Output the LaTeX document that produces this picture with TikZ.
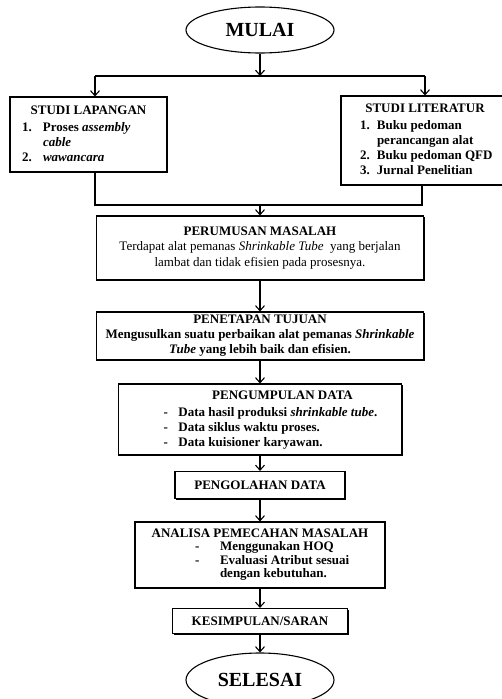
\documentclass[tikz,border=0pt]{standalone}
\usepackage{fontspec}
\setmainfont{Liberation Serif}
\usetikzlibrary{arrows.meta,positioning,shapes.geometric,shadows}

\begin{document}
\begin{tikzpicture}[x=1pt,y=-1pt,
  box/.style={draw,fill=white,line width=1.1pt,inner sep=0pt,align=center,
    font=\fontsize{13}{15}\selectfont\bfseries,
    drop shadow={shadow xshift=1.3pt,shadow yshift=-1.3pt,fill=black,opacity=1}},
  ends/.style={draw,ellipse,line width=1.1pt,inner sep=0pt,minimum width=148pt,
    font=\fontsize{20}{22}\selectfont\bfseries},
  link/.style={line width=1.1pt},
  flow/.style={link,-{Straight Barb[length=5pt,width=9pt]}}]
  \useasboundingbox (0,0) rectangle (501,699);
  \node[ends,minimum height=46pt] (mulai) at (260,30) {MULAI};
  \node[box,minimum width=157pt,minimum height=75pt] (lap) at (88.5,134.5) {%
    \begin{tabular}{@{\hspace{12pt}}p{21pt}@{}p{124pt}@{}}
      \multicolumn{2}{@{}c@{}}{STUDI LAPANGAN}\\[2pt]
      1. & Proses \textit{assembly}\\
         & \textit{cable}\\
      2. & \textit{wawancara}
    \end{tabular}};
  \node[box,minimum width=168pt,minimum height=89pt] (lit) at (425,140.5) {%
    \begin{tabular}{@{\hspace{19pt}}p{17pt}@{}p{132pt}@{}}
      \multicolumn{2}{@{}c@{}}{STUDI LITERATUR}\\[2pt]
      1. & Buku pedoman\\
         & perancangan alat\\
      2. & Buku pedoman QFD\\
      3. & Jurnal Penelitian
    \end{tabular}};
  \node[box,minimum width=327pt,minimum height=64pt,
    font=\fontsize{13}{15.5}\selectfont] (per) at (260,248) {%
    \textbf{PERUMUSAN MASALAH}\\
    Terdapat alat pemanas \textit{Shrinkable Tube}\ \ yang berjalan\\
    lambat dan tidak efisien pada prosesnya.};
  \node[box,minimum width=327pt,minimum height=48pt] (pen) at (260,336) {%
    PENETAPAN TUJUAN\\
    Mengusulkan suatu perbaikan alat pemanas \textit{Shrinkable}\\
    \textit{Tube} yang lebih baik dan efisien.};
  \node[box,minimum width=283pt,minimum height=71pt] (kum) at (260,419.5) {%
    \begin{tabular}{@{\hspace{45pt}}p{15pt}@{}p{223pt}@{}}
      \multicolumn{2}{@{\hspace{45pt}}c@{}}{PENGUMPULAN DATA}\\[2pt]
      - & Data hasil produksi \textit{shrinkable tube}.\\
      - & Data siklus waktu proses.\\
      - & Data kuisioner karyawan.
    \end{tabular}};
  \node[box,minimum width=170pt,minimum height=27pt] (olah) at (260,485) {PENGOLAHAN DATA};
  \node[box,minimum width=250pt,minimum height=66pt,
    font=\fontsize{13}{13.5}\selectfont\bfseries] (ana) at (260,555) {%
    \begin{tabular}{@{\hspace{60pt}}p{25pt}@{}p{165pt}@{}}
      \multicolumn{2}{@{}c@{}}{ANALISA PEMECAHAN MASALAH}\\
      - & Menggunakan HOQ\\
      - & Evaluasi Atribut sesuai\\
        & dengan kebutuhan.
    \end{tabular}};
  \node[box,minimum width=175pt,minimum height=25pt] (kes) at (260,621) {KESIMPULAN/SARAN};
  \node[ends,minimum height=54pt] (selesai) at (260,680) {SELESAI};
  % fork and join
  \coordinate (fork) at (260,76);
  \coordinate (forkl) at (95,76);
  \coordinate (forkr) at (425,76);
  \coordinate (joinl) at (95,205);
  \coordinate (joinr) at (422,205);
  \coordinate (join) at (260,205);
  \draw[flow] (mulai) -- (fork);
  \draw[link] (forkl) -- (forkr);
  \draw[flow] (forkl) -- (forkl |- lap.north);
  \draw[flow] (forkr) -- (lit);
  \draw[link] (lap.south -| joinl) -- (joinl) -- (joinr) -- (lit.south -| joinr);
  \draw[flow] (join) -- (per);
  \draw[flow] (per) -- (pen);
  \draw[flow] (pen) -- (kum);
  \draw[flow] (kum) -- (olah);
  \draw[flow] (olah) -- (ana);
  \draw[flow] (ana) -- (kes);
  \draw[flow] (kes) -- (selesai);
\end{tikzpicture}
\end{document}
